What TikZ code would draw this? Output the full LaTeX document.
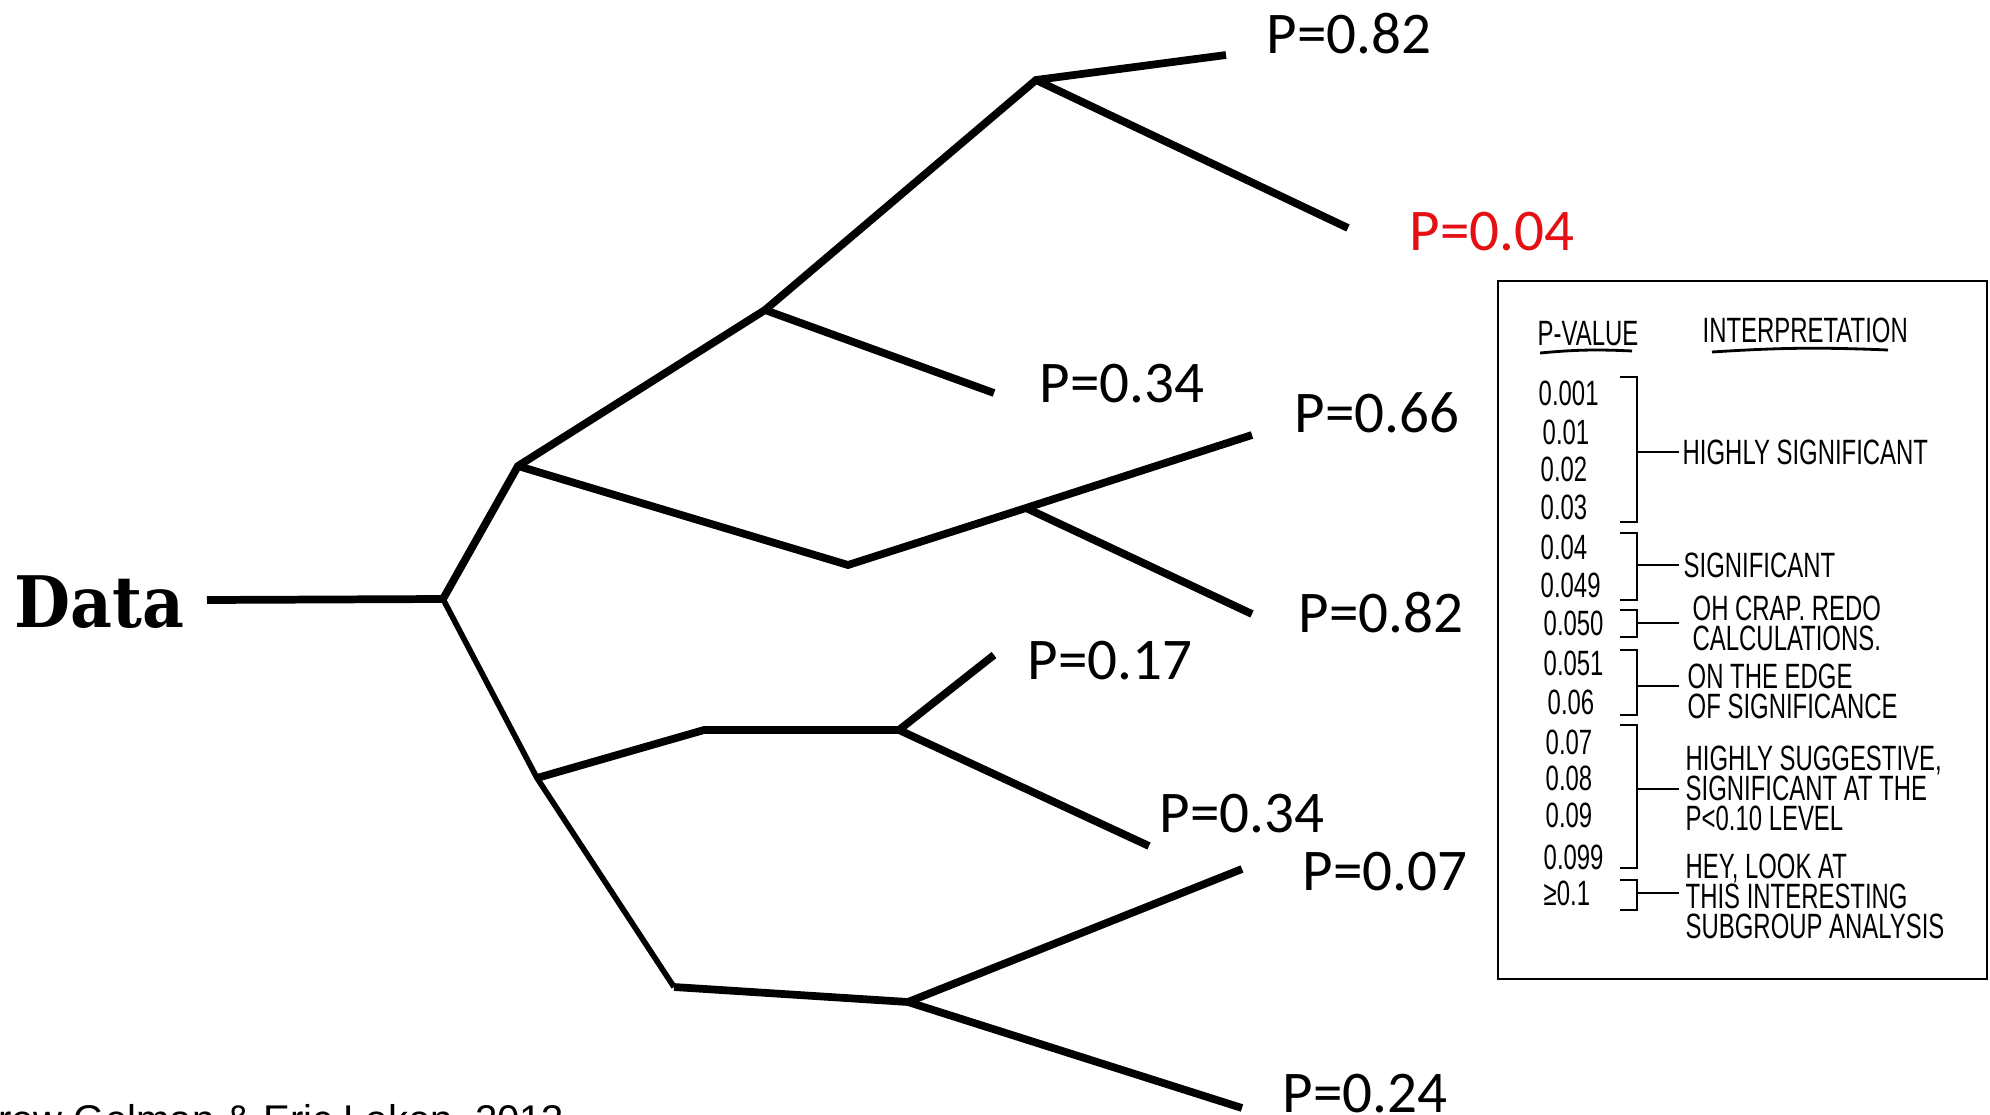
\documentclass[tikz,border=0pt]{standalone}
\usepackage{fontspec}
\setmainfont{Carlito}
\newfontfamily\datafont[FakeStretch=0.91]{DejaVu Serif}
\newfontfamily\handfont[FakeStretch=0.68]{Liberation Sans}
\newfontfamily\creditfont{Liberation Sans}
\definecolor{pred}{RGB}{228,16,20}

\begin{document}
\begin{tikzpicture}[x=0.01cm, y=-0.01cm,
        branch/.style={line width=2.2pt},
        twig/.style={line width=1.6pt},
        pval/.style={anchor=base west, inner sep=0pt, font=\fontsize{16.8}{20}\selectfont},
        hand/.style={anchor=base west, inner sep=0pt, font=\handfont\fontsize{10}{8.5}\selectfont},
        handblock/.style={anchor=north west, inner sep=0pt, align=left, font=\handfont\fontsize{10}{8.5}\selectfont},
        pen/.style={line width=0.8pt}]
        \useasboundingbox (0,0) rectangle (1990,1115);
        \clip (0,0) rectangle (1990,1115);

        % the forking paths
        \node[anchor=base west, inner sep=0pt, font=\datafont\bfseries\fontsize{20.2}{24}\selectfont] (data) at (14,627) {Data};
        \coordinate (start) at (207,600);
        \coordinate (a) at (443,599);
        \coordinate (b) at (518,466);
        \coordinate (c) at (537,778);
        \coordinate (d) at (765,310);
        \coordinate (e) at (1036,80);
        \coordinate (f) at (848,565);
        \coordinate (g) at (1026,508);
        \coordinate (h) at (704,730);
        \coordinate (i) at (899,730);
        \coordinate (j) at (674,987);
        \coordinate (k) at (908,1002);
        \coordinate (l1) at (1226,55);
        \coordinate (l2) at (1348,228);
        \coordinate (l3) at (994,393);
        \coordinate (l4) at (1252,435);
        \coordinate (l5) at (1252,614);
        \coordinate (l6) at (994,655);
        \coordinate (l7) at (1149,846);
        \coordinate (l8) at (1242,869);
        \coordinate (l9) at (1242,1108);
        \draw[branch] (start) -- (a) -- (b) -- (d) -- (e) -- (l1);
        \draw[branch] (e) -- (l2);
        \draw[branch] (d) -- (l3);
        \draw[branch] (b) -- (f) -- (g) -- (l4);
        \draw[branch] (g) -- (l5);
        \draw[twig] (a) -- (c) -- (j);
        \draw[branch] (c) -- (h) -- (i) -- (l6);
        \draw[branch] (i) -- (l7);
        \draw[branch] (j) -- (k) -- (l8);
        \draw[branch] (k) -- (l9);

        \node[pval] (p1) at (1266,53) {P=0.82};
        \node[pval, text=pred] (p2) at (1409,250) {P=0.04};
        \node[pval] (p3) at (1039,402) {P=0.34};
        \node[pval] (p4) at (1294,432) {P=0.66};
        \node[pval] (p5) at (1298,632) {P=0.82};
        \node[pval] (p6) at (1027,679) {P=0.17};
        \node[pval] (p7) at (1159,832) {P=0.34};
        \node[pval] (p8) at (1302,890) {P=0.07};
        \node[pval] (p9) at (1282,1112) {P=0.24};

        \node[anchor=base east, inner sep=0pt, font=\creditfont\fontsize{11.4}{13}\selectfont] (credit) at (565,1133) {Andrew Gelman \& Eric Loken, 2013};

        % the p-value table
        \draw[pen] (1498,281) rectangle (1987,979);
        \node[hand] (pvhead) at (1537,345) {P-VALUE};
        \node[hand] (inhead) at (1702,342) {INTERPRETATION};
        \draw[pen] (1540,353) to[bend left=4] (1632,351);
        \draw[pen] (1712,352) to[bend left=3] (1888,350);
        \foreach \v/\x/\y [count=\n] in {0.001/1538/405, 0.01/1542/444, 0.02/1540/481, 0.03/1540/519,
                0.04/1540/559, 0.049/1540/597, 0.050/1543/635, 0.051/1543/675, 0.06/1547/714,
                0.07/1545/754, 0.08/1545/790, 0.09/1545/827, 0.099/1543/869, ≥0.1/1543/905}
            \node[hand] (num\n) at (\x,\y) {\v};
        \foreach \t/\b/\m [count=\n] in {377/522/452, 533/600/565, 610/637/623, 650/715/686, 725/868/789, 880/910/893} {
            \draw[pen] (1620,\t) -- (1637,\t) -- (1637,\b) -- (1620,\b);
            \coordinate (tick\n) at (1679,\m);
            \draw[pen] (1637,\m) -- (tick\n);
        }
        \node[hand] (int1) at (1682,464) {HIGHLY SIGNIFICANT};
        \node[hand] (int2) at (1683,577) {SIGNIFICANT};
        \node[handblock] (int3) at (1692,595) {OH CRAP. REDO\\CALCULATIONS.};
        \node[handblock] (int4) at (1687,663) {ON THE EDGE\\OF SIGNIFICANCE};
        \node[handblock] (int5) at (1685,745) {HIGHLY SUGGESTIVE,\\SIGNIFICANT AT THE\\P<0.10 LEVEL};
        \node[handblock] (int6) at (1685,853) {HEY, LOOK AT\\THIS INTERESTING\\SUBGROUP ANALYSIS};
\end{tikzpicture}
\end{document}
